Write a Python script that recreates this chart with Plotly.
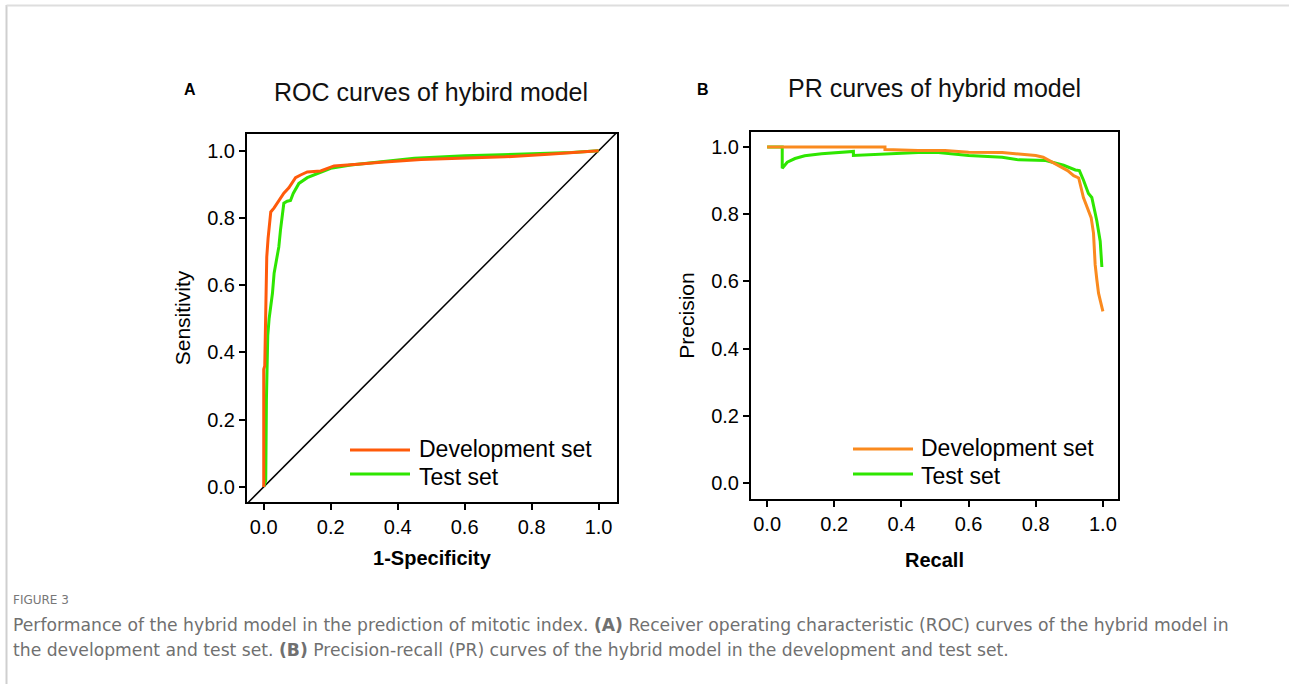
import plotly.graph_objects as go

# ---------------- data ----------------
roc_dev_fpr = [0, 0.0, 0.003, 0.006, 0.009, 0.013, 0.021, 0.031, 0.045, 0.06, 0.075, 0.095, 0.11, 0.13,
               0.17, 0.21, 0.28, 0.35, 0.47, 0.6, 0.72, 0.85, 0.93, 1.0]
roc_dev_tpr = [0, 0.35, 0.36, 0.535, 0.684, 0.74, 0.818, 0.83, 0.85, 0.874, 0.89, 0.92, 0.928, 0.937,
               0.94, 0.955, 0.96, 0.966, 0.974, 0.978, 0.982, 0.99, 0.995, 1.0]

roc_test_fpr = [0, 0.006, 0.008, 0.012, 0.016, 0.021, 0.026, 0.031, 0.039, 0.045, 0.05, 0.055, 0.06, 0.07,
                0.08, 0.088, 0.105, 0.13, 0.16, 0.2, 0.26, 0.35, 0.45, 0.6, 0.8, 0.92, 1.0]
roc_test_tpr = [0, 0.02, 0.26, 0.45, 0.50, 0.535, 0.576, 0.636, 0.684, 0.714, 0.764, 0.80, 0.844, 0.85,
                0.852, 0.873, 0.903, 0.92, 0.933, 0.948, 0.958, 0.968, 0.978, 0.985, 0.99, 0.995, 1.0]

pr_dev_recall = [0, 0.351, 0.351, 0.45, 0.53, 0.6, 0.7, 0.75, 0.8, 0.822, 0.843, 0.873, 0.895, 0.913,
                 0.928, 0.942, 0.957, 0.965, 0.972, 0.977, 0.982, 0.987, 0.993, 1.0]
pr_dev_prec = [1.0, 1.0, 0.993, 0.99, 0.99, 0.985, 0.984, 0.98, 0.975, 0.97, 0.958, 0.943, 0.93, 0.915,
               0.908, 0.85, 0.81, 0.79, 0.744, 0.65, 0.605, 0.565, 0.54, 0.511]

pr_test_recall = [0, 0.045, 0.045, 0.06, 0.083, 0.112, 0.162, 0.2, 0.257, 0.257, 0.361, 0.45, 0.51, 0.6,
                  0.7, 0.75, 0.83, 0.87, 0.883, 0.918, 0.93, 0.942, 0.957, 0.967, 0.982, 0.992, 0.997]
pr_test_prec = [1.0, 1.0, 0.937, 0.955, 0.966, 0.974, 0.98, 0.983, 0.987, 0.975, 0.98, 0.984, 0.984, 0.975,
                0.97, 0.962, 0.96, 0.95, 0.946, 0.932, 0.93, 0.902, 0.862, 0.85, 0.78, 0.72, 0.643]

diag_line = [-0.05, 1.055]
tick_vals = [0.0, 0.2, 0.4, 0.6, 0.8, 1.0]
tick_text = ["0.0", "0.2", "0.4", "0.6", "0.8", "1.0"]
series_names = ["Development set", "Test set"]

# ---------------- style ----------------
W, H = 1289, 684
FONT = "Arial, 'Liberation Sans', sans-serif"
CAP_FONT = "'DejaVu Sans', sans-serif"
ORANGE_ROC = "#FF5A0A"
ORANGE_PR = "#FA8A1E"
GREEN = "#2EE600"


def px(x):
    return x / W


def py(y):
    return 1 - y / H


fig = go.Figure()

# ROC panel
fig.add_trace(go.Scatter(x=diag_line, y=diag_line, mode="lines", line=dict(color="black", width=1.5),
                         showlegend=False, xaxis="x", yaxis="y", hoverinfo="skip"))
fig.add_trace(go.Scatter(x=roc_test_fpr, y=roc_test_tpr, mode="lines", name=series_names[1],
                         line=dict(color=GREEN, width=3), showlegend=False, xaxis="x", yaxis="y"))
fig.add_trace(go.Scatter(x=roc_dev_fpr, y=roc_dev_tpr, mode="lines", name=series_names[0],
                         line=dict(color=ORANGE_ROC, width=3), showlegend=False, xaxis="x", yaxis="y"))
# PR panel
fig.add_trace(go.Scatter(x=pr_test_recall, y=pr_test_prec, mode="lines", name=series_names[1],
                         line=dict(color=GREEN, width=3), showlegend=False, xaxis="x2", yaxis="y2"))
fig.add_trace(go.Scatter(x=pr_dev_recall, y=pr_dev_prec, mode="lines", name=series_names[0],
                         line=dict(color=ORANGE_PR, width=3), showlegend=False, xaxis="x2", yaxis="y2"))

axis_common = dict(
    showline=True, mirror=True, linecolor="black", linewidth=2,
    ticks="outside", ticklen=6, tickwidth=2, tickcolor="black",
    tickvals=tick_vals, ticktext=tick_text,
    showgrid=False, zeroline=False,
    tickfont=dict(family=FONT, size=20, color="black"),
)

fig.update_layout(
    width=W, height=H,
    margin=dict(l=0, r=0, t=0, b=0),
    paper_bgcolor="white", plot_bgcolor="white",
    font=dict(family=FONT, color="black"),
    xaxis=dict(domain=[px(247), px(617)], range=[-0.05, 1.055], anchor="y",
               title=dict(text="<b>1-Specificity</b>", font=dict(family=FONT, size=20, color="black"), standoff=14),
               **axis_common),
    yaxis=dict(domain=[py(502), py(134)], range=[-0.045, 1.05], anchor="x",
               title=dict(text="Sensitivity", font=dict(family=FONT, size=21, color="black"), standoff=11),
               **axis_common),
    xaxis2=dict(domain=[px(751), px(1118)], range=[-0.048, 1.045], anchor="y2",
                title=dict(text="<b>Recall</b>", font=dict(family=FONT, size=20, color="black"), standoff=19),
                **axis_common),
    yaxis2=dict(domain=[py(499), py(132)], range=[-0.048, 1.045], anchor="x2",
                title=dict(text="Precision", font=dict(family=FONT, size=21, color="black"), standoff=11),
                **axis_common),
)

LEG = 23
annotations = [
    dict(text="ROC curves of hybird model", x=px(431), y=py(92), font=dict(size=25, family=FONT, color="#111")),
    dict(text="PR curves of hybrid model", x=px(934), y=py(88), font=dict(size=25, family=FONT, color="#111")),
    dict(text="<b>A</b>", x=px(190), y=py(90), font=dict(size=16, family=FONT, color="black")),
    dict(text="<b>B</b>", x=px(703), y=py(90), font=dict(size=16, family=FONT, color="black")),
    # legends
    dict(text=series_names[0], x=px(417), y=py(449), xanchor="left", font=dict(size=LEG, family=FONT, color="black")),
    dict(text=series_names[1], x=px(417), y=py(476.5), xanchor="left", font=dict(size=LEG, family=FONT, color="black")),
    dict(text=series_names[0], x=px(919), y=py(448), xanchor="left", font=dict(size=LEG, family=FONT, color="black")),
    dict(text=series_names[1], x=px(919), y=py(475.5), xanchor="left", font=dict(size=LEG, family=FONT, color="black")),
    # caption
    dict(text="FIGURE 3", x=px(11), y=py(600), xanchor="left",
         font=dict(size=12, family=CAP_FONT, color="#777")),
    dict(text="Performance of the hybrid model in the prediction of mitotic index. <b>(A)</b> Receiver operating "
              "characteristic (ROC) curves of the hybrid model in", x=px(11), y=py(625), xanchor="left",
         font=dict(size=17.2, family=CAP_FONT, color="#707070")),
    dict(text="the development and test set. <b>(B)</b> Precision-recall (PR) curves of the hybrid model in the "
              "development and test set.", x=px(11), y=py(650), xanchor="left",
         font=dict(size=17.2, family=CAP_FONT, color="#707070")),
]
for a in annotations:
    a.setdefault("xanchor", "center")
    a.update(xref="paper", yref="paper", yanchor="middle", showarrow=False)
fig.update_layout(annotations=annotations)

shapes = [
    # page frame
    dict(type="line", x0=px(6.5), x1=px(6.5), y0=py(5), y1=py(684), line=dict(color="#cfcfcf", width=2)),
    dict(type="line", x0=px(6.5), x1=px(1289), y0=py(5.5), y1=py(5.5), line=dict(color="#dedede", width=2)),
    # legend keys
    dict(type="line", x0=px(350), x1=px(410), y0=py(450), y1=py(450), line=dict(color=ORANGE_ROC, width=3)),
    dict(type="line", x0=px(350), x1=px(410), y0=py(474), y1=py(474), line=dict(color=GREEN, width=3)),
    dict(type="line", x0=px(853), x1=px(913), y0=py(449), y1=py(449), line=dict(color=ORANGE_PR, width=3)),
    dict(type="line", x0=px(853), x1=px(913), y0=py(474), y1=py(474), line=dict(color=GREEN, width=3)),
]
for s in shapes:
    s.update(xref="paper", yref="paper")
fig.update_layout(shapes=shapes)

fig.write_html("out.html", config={"displayModeBar": False},
               post_script="document.body.style.margin='0';document.body.style.overflow='hidden';")
